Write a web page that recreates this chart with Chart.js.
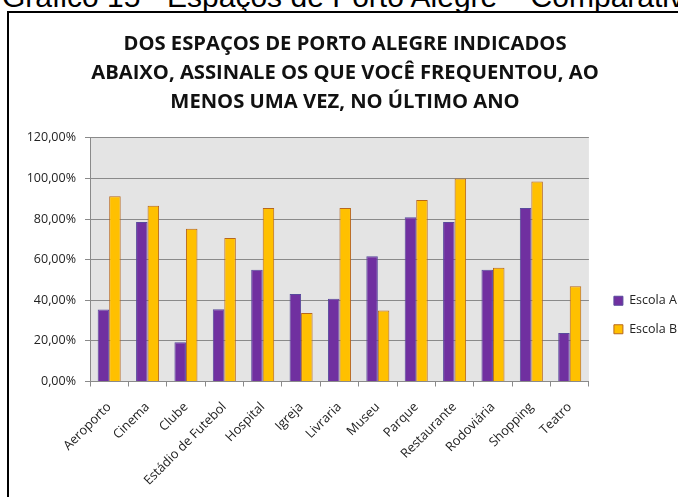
<!DOCTYPE html>
<html>
<head>
<meta charset="utf-8">
<script src="https://cdn.jsdelivr.net/npm/chart.js@4/dist/chart.umd.min.js"></script>
<style>
  html, body { margin: 0; padding: 0; background: #fff; overflow: hidden; width: 678px; height: 497px; }
  #caption { position: absolute; left: 2px; top: -18px; font: 30px "Liberation Sans", Arial, sans-serif; line-height: 30px; color: #000; white-space: nowrap; }
  #box { position: absolute; left: 7px; top: 11px; width: 1000px; height: 1000px; border: 2px solid #000; }
  #wrap { position: absolute; left: 0; top: 0; }
</style>
</head>
<body>
<div id="caption">Gráfico 15 - Espaços de Porto Alegre – Comparativo</div>
<div id="box"></div>
<div id="wrap"><canvas id="c" width="678" height="630"></canvas></div>
<script>
const titleLines = [
  "DOS ESPAÇOS DE PORTO ALEGRE INDICADOS",
  "ABAIXO, ASSINALE OS QUE VOCÊ FREQUENTOU, AO",
  "MENOS UMA VEZ, NO ÚLTIMO ANO"
];
const categories = ["Aeroporto", "Cinema", "Clube", "Estádio de Futebol", "Hospital", "Igreja", "Livraria", "Museu", "Parque", "Restaurante", "Rodoviária", "Shopping", "Teatro"];
const escolaA = [35.5, 78.6, 19.3, 35.6, 55.0, 43.1, 40.8, 61.7, 80.9, 78.6, 55.0, 85.5, 23.9];
const escolaB = [91.2, 86.6, 75.2, 70.7, 85.5, 33.8, 85.5, 35.0, 89.4, 100.0, 56.0, 98.5, 46.9];
const seriesNames = ["Escola A", "Escola B"];
const yMax = 120;
const yStep = 20;

const plotBg = {
  id: 'plotBg',
  beforeDraw(chart) {
    const { ctx, chartArea: { left, top, right, bottom } } = chart;
    ctx.save();
    ctx.fillStyle = '#E4E4E4';
    ctx.fillRect(left, top, right - left, bottom - top);
    ctx.restore();
  }
};
const legendShift = {
  id: 'legendShift',
  afterLayout(chart) {
    chart.legend.left += 9;
    chart.legend.right += 9;
  }
};

const font = "'Open Sans', sans-serif";
new Chart(document.getElementById('c'), {
  type: 'bar',
  data: {
    labels: categories,
    datasets: [
      { label: seriesNames[0], data: escolaA, backgroundColor: '#7030A0', borderColor: '#584A9C', borderWidth: 1 },
      { label: seriesNames[1], data: escolaB, backgroundColor: '#FFC000', borderColor: '#B8671C', borderWidth: 1 }
    ]
  },
  options: {
    responsive: false,
    animation: false,
    devicePixelRatio: 1,
    datasets: { bar: { categoryPercentage: 0.6, barPercentage: 1.0 } },
    layout: { padding: { left: 12, right: 0, top: 0, bottom: 0 } },
    plugins: {
      title: {
        display: true,
        text: titleLines,
        color: '#111',
        font: { family: font, weight: 'bold', size: 20.2, lineHeight: 1.45 },
        padding: { top: 29.5, bottom: 20.5 }
      },
      legend: {
        position: 'right',
        labels: {
          boxWidth: 9, boxHeight: 9, padding: 16,
          color: '#222',
          font: { family: font, size: 12.5 }
        }
      },
      tooltip: { enabled: false }
    },
    scales: {
      x: {
        afterFit(s) { s.height = 630 - 381.5; },
        grid: { display: true, offset: true, drawOnChartArea: false, drawTicks: true, tickLength: 5, color: '#8A8A8A' },
        border: { display: true, color: '#8A8A8A' },
        ticks: { minRotation: 45, maxRotation: 45, autoSkip: false, padding: 13, color: '#222', font: { family: font, size: 12.8 } }
      },
      y: {
        min: 0, max: yMax,
        afterFit(s) { s.width = 78; },
        grid: { color: '#8A8A8A', tickLength: 5 },
        border: { display: true, color: '#8A8A8A' },
        ticks: {
          stepSize: yStep,
          padding: 9,
          color: '#222',
          font: { family: font, size: 12.5 },
          callback: v => v.toFixed(2).replace('.', ',') + '%'
        }
      }
    }
  },
  plugins: [plotBg, legendShift]
});
</script>
</body>
</html>
